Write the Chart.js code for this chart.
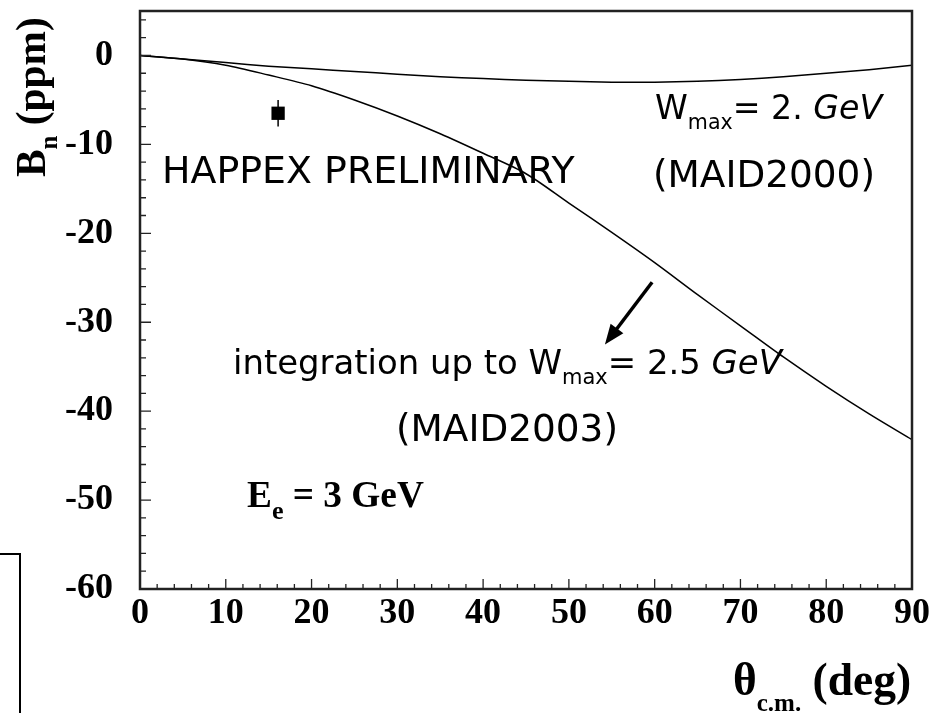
<!DOCTYPE html>
<html>
<head>
<meta charset="utf-8">
<script src="https://cdn.jsdelivr.net/npm/chart.js@4.4.0/dist/chart.umd.min.js"></script>
<style>
  html, body { margin: 0; padding: 0; background: #fff; }
</style>
</head>
<body>
<canvas id="grafico" width="933" height="713"></canvas>
<script>
// Datos
const angulos = [0, 5, 10, 15, 20, 25, 30, 35, 40, 45, 50, 55, 60, 65, 70, 75, 80, 85, 90]; // theta c.m. (deg)
const bnMaid2000 = [0, -0.4, -0.8, -1.2, -1.5, -1.8, -2.1, -2.4, -2.6, -2.8, -2.9, -3.0, -3.0, -2.9, -2.7, -2.4, -2.0, -1.6, -1.1];
const bnMaid2003 = [0, -0.4, -1.1, -2.2, -3.4, -5.0, -6.8, -8.8, -11.0, -13.3, -16.6, -19.9, -23.3, -26.9, -30.4, -33.9, -37.2, -40.3, -43.2];

const happexX = [16.1];
const happexY = [-6.5];
const happexErr = [1.5];

const flechaDesde = [59.7, -25.5]; // flecha hacia la curva MAID2003
const flechaHasta = [54.2, -32.5];

const ticksX = [0, 10, 20, 30, 40, 50, 60, 70, 80, 90];
const ticksY = [-60, -50, -40, -30, -20, -10, 0];

const SERIF = '"Liberation Serif", "Times New Roman", serif';
const COMIC = '"Comic Sans MS", "DejaVu Sans", sans-serif';

// Dibuja un texto formado por partes (subindices, cursiva...) y lo ajusta al ancho pedido
function fuente(p, s) {
  return (p.estilo || '') + ' ' + (p.peso || 'normal') + ' ' + (s * (p.sz || 1)).toFixed(1) + 'px ' + (p.fam || COMIC);
}
function dibujarTexto(ctx, partes, x0, y0, ancho, base) {
  const medir = (s) => {
    let w = 0;
    partes.forEach(p => { ctx.font = fuente(p, s); w += ctx.measureText(p.t).width; });
    return w;
  };
  const s = ancho ? base * ancho / medir(base) : base;
  let x = x0;
  partes.forEach(p => {
    ctx.font = fuente(p, s);
    ctx.fillText(p.t, x, y0 + (p.dy || 0) * s);
    x += ctx.measureText(p.t).width;
  });
}

const decor = {
  id: 'decor',
  beforeDatasetsDraw(chart) {
    const ctx = chart.ctx, xs = chart.scales.x, ys = chart.scales.y;
    // barra de error del punto HAPPEX
    ctx.save();
    ctx.strokeStyle = '#000';
    ctx.lineWidth = 1.5;
    happexX.forEach((v, i) => {
      const px = xs.getPixelForValue(v);
      ctx.beginPath();
      ctx.moveTo(px, ys.getPixelForValue(happexY[i] + happexErr[i]));
      ctx.lineTo(px, ys.getPixelForValue(happexY[i] - happexErr[i]));
      ctx.stroke();
    });
    ctx.restore();
  },
  afterDraw(chart) {
    const ctx = chart.ctx, xs = chart.scales.x, ys = chart.scales.y;
    const a = chart.chartArea;
    ctx.save();
    ctx.strokeStyle = '#222';
    ctx.lineWidth = 2.5;
    ctx.strokeRect(a.left, a.top, a.right - a.left, a.bottom - a.top);

    // marcas de los ejes hacia dentro
    ctx.lineWidth = 1.3;
    ctx.beginPath();
    for (let v = 0; v <= 90; v += 2) {
      const px = xs.getPixelForValue(v);
      const largo = v % 10 === 0 ? 10 : 5;
      ctx.moveTo(px, a.bottom);
      ctx.lineTo(px, a.bottom - largo);
    }
    for (let v = -60; v <= 4; v += 2) {
      const py = ys.getPixelForValue(v);
      const largo = v % 10 === 0 ? 11 : 6;
      ctx.moveTo(a.left, py);
      ctx.lineTo(a.left + largo, py);
    }
    ctx.stroke();

    // flecha
    const x1 = xs.getPixelForValue(flechaDesde[0]), y1 = ys.getPixelForValue(flechaDesde[1]);
    const x2 = xs.getPixelForValue(flechaHasta[0]), y2 = ys.getPixelForValue(flechaHasta[1]);
    const ang = Math.atan2(y2 - y1, x2 - x1);
    const punta = 20, media = 8;
    ctx.strokeStyle = '#000';
    ctx.fillStyle = '#000';
    ctx.lineWidth = 3.5;
    ctx.beginPath();
    ctx.moveTo(x1, y1);
    ctx.lineTo(x2 - punta * 0.8 * Math.cos(ang), y2 - punta * 0.8 * Math.sin(ang));
    ctx.stroke();
    ctx.beginPath();
    ctx.moveTo(x2, y2);
    ctx.lineTo(x2 - punta * Math.cos(ang) + media * Math.sin(ang), y2 - punta * Math.sin(ang) - media * Math.cos(ang));
    ctx.lineTo(x2 - punta * Math.cos(ang) - media * Math.sin(ang), y2 - punta * Math.sin(ang) + media * Math.cos(ang));
    ctx.closePath();
    ctx.fill();

    // textos
    ctx.fillStyle = '#000';
    ctx.textBaseline = 'alphabetic';
    ctx.textAlign = 'left';
    dibujarTexto(ctx, [{ t: 'HAPPEX PRELIMINARY' }], 162, 183, 413, 36);
    dibujarTexto(ctx, [
      { t: 'W' }, { t: 'max', sz: 0.62, dy: 0.3 }, { t: '= 2. ' }, { t: 'GeV', estilo: 'italic' }
    ], 655, 119, 227, 34);
    dibujarTexto(ctx, [{ t: '(MAID2000)' }], 653, 187, 222, 34);
    dibujarTexto(ctx, [
      { t: 'integration up to W' }, { t: 'max', sz: 0.62, dy: 0.3 }, { t: '= 2.5 ' }, { t: 'GeV', estilo: 'italic' }
    ], 233, 374, 549, 34);
    dibujarTexto(ctx, [{ t: '(MAID2003)' }], 396, 441, 222, 34);
    dibujarTexto(ctx, [
      { t: 'E', fam: SERIF, peso: 'bold' }, { t: 'e', fam: SERIF, peso: 'bold', sz: 0.7, dy: 0.33 },
      { t: ' = 3 GeV', fam: SERIF, peso: 'bold' }
    ], 247, 507, 177, 29);

    // titulo eje x
    dibujarTexto(ctx, [
      { t: '\u03B8', fam: SERIF, peso: 'bold' }, { t: 'c.m.', fam: SERIF, peso: 'bold', sz: 0.55, dy: 0.36 },
      { t: ' (deg)', fam: SERIF, peso: 'bold' }
    ], 733, 695, 178, 38);

    // titulo eje y (girado)
    ctx.translate(45, 177);
    ctx.rotate(-Math.PI / 2);
    dibujarTexto(ctx, [
      { t: 'B', fam: SERIF, peso: 'bold' }, { t: 'n', fam: SERIF, peso: 'bold', sz: 0.6, dy: 0.3 },
      { t: ' (ppm)', fam: SERIF, peso: 'bold' }
    ], 0, 0, 160, 38);
    ctx.restore();

    // recuadro cortado abajo a la izquierda
    ctx.save();
    ctx.strokeStyle = '#000';
    ctx.lineWidth = 2;
    ctx.beginPath();
    ctx.moveTo(0, 554);
    ctx.lineTo(20, 554);
    ctx.lineTo(20, 713);
    ctx.stroke();
    ctx.restore();
  }
};

const puntos = (ys) => angulos.map((a, i) => ({ x: a, y: ys[i] }));

new Chart(document.getElementById('grafico').getContext('2d'), {
  type: 'line',
  data: {
    datasets: [
      { label: 'MAID2000', data: puntos(bnMaid2000), borderColor: '#000', borderWidth: 1.5, pointRadius: 0, tension: 0.3, fill: false },
      { label: 'MAID2003', data: puntos(bnMaid2003), borderColor: '#000', borderWidth: 1.5, pointRadius: 0, tension: 0.3, fill: false },
      {
        type: 'scatter', label: 'HAPPEX',
        data: happexX.map((v, i) => ({ x: v, y: happexY[i] })),
        pointStyle: 'rect', pointRadius: 9.4, backgroundColor: '#000', borderWidth: 0
      }
    ]
  },
  options: {
    responsive: false,
    animation: false,
    devicePixelRatio: 1,
    layout: { padding: { top: 11, right: 21, left: 0, bottom: 0 } },
    plugins: { legend: { display: false }, tooltip: { enabled: false } },
    scales: {
      x: {
        type: 'linear', min: 0, max: 90,
        afterFit: (s) => { s.height = 124; s.paddingLeft = 0; s.paddingRight = 0; },
        afterBuildTicks: (s) => { s.ticks = ticksX.map(v => ({ value: v })); },
        ticks: { font: { family: SERIF, size: 36, weight: 'bold' }, color: '#000', padding: 3, maxRotation: 0 },
        grid: { display: false, drawTicks: false },
        border: { display: false }
      },
      y: {
        type: 'linear', min: -60, max: 5,
        afterFit: (s) => { s.width = 140; s.paddingTop = 0; s.paddingBottom = 0; },
        afterBuildTicks: (s) => { s.ticks = ticksY.map(v => ({ value: v })); },
        ticks: { font: { family: SERIF, size: 36, weight: 'bold' }, color: '#000', padding: 27 },
        grid: { display: false, drawTicks: false },
        border: { display: false }
      }
    }
  },
  plugins: [decor]
});
</script>
</body>
</html>
